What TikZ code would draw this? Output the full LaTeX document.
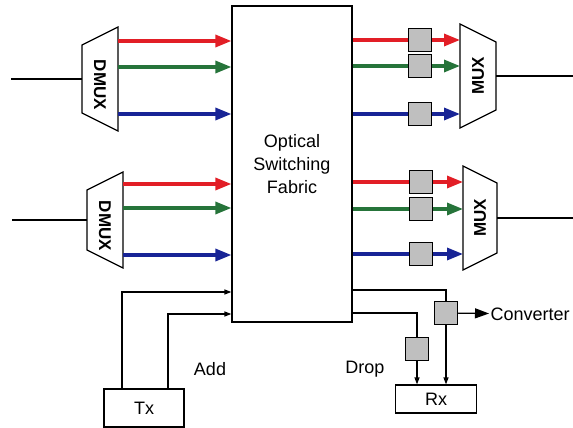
\documentclass[tikz,border=0pt]{standalone}
\usepackage{fontspec}
\setmainfont{Liberation Sans}
\usetikzlibrary{arrows.meta}
\definecolor{chred}{RGB}{226,30,38}
\definecolor{chgreen}{RGB}{38,116,58}
\definecolor{chblue}{RGB}{24,36,150}

\begin{document}
\begin{tikzpicture}[x=1pt, y=-1pt, line width=1.2pt,
  every node/.style={font=\fontsize{18}{23}\selectfont, inner sep=1pt},
  muxlabel/.style={font=\bfseries\fontsize{17}{17}\selectfont},
  chline/.style={line width=3.2pt},
  charrow/.style={line width=3.2pt, -{Triangle[length=16pt,width=12pt]}},
  smallarrow/.style={-{Triangle[length=7pt,width=5pt]}},
  bigarrow/.style={-{Triangle[length=14pt,width=10pt]}},
  gbox/.style={draw, fill=gray!50, minimum size=23pt, inner sep=0pt}]
\useasboundingbox (0,0) rectangle (573,428);

% switching fabric
\node[draw, minimum width=120pt, minimum height=316pt, align=center] (fab) at (292,164) {Optical\\Switching\\Fabric};

% DMUX A
\begin{scope}[shift={(100,79)}]
\draw (-18,-34) -- (18,-52) -- (18,52) -- (-18,34) -- cycle;
\node[muxlabel, rotate=-90] (dmuxA) at (0,6) {DMUX};
\coordinate (dmuxA-in) at (-18,0);
\coordinate (dmuxA-r) at (18,-38);
\coordinate (dmuxA-g) at (18,-12);
\coordinate (dmuxA-b) at (18,35);
\end{scope}
\coordinate (fibA) at (11,79);
\draw (fibA) -- (dmuxA-in);
\draw[charrow, chred] (dmuxA-r) -- (dmuxA-r -| fab.west);
\draw[charrow, chgreen] (dmuxA-g) -- (dmuxA-g -| fab.west);
\draw[charrow, chblue] (dmuxA-b) -- (dmuxA-b -| fab.west);

% DMUX B
\begin{scope}[shift={(105,220)}]
\draw (-18,-30) -- (18,-48) -- (18,48) -- (-18,30) -- cycle;
\node[muxlabel, rotate=-90] (dmuxB) at (0,6) {DMUX};
\coordinate (dmuxB-in) at (-18,0);
\coordinate (dmuxB-r) at (18,-36);
\coordinate (dmuxB-g) at (18,-12);
\coordinate (dmuxB-b) at (18,35);
\end{scope}
\coordinate (fibB) at (12,220);
\draw (fibB) -- (dmuxB-in);
\draw[charrow, chred] (dmuxB-r) -- (dmuxB-r -| fab.west);
\draw[charrow, chgreen] (dmuxB-g) -- (dmuxB-g -| fab.west);
\draw[charrow, chblue] (dmuxB-b) -- (dmuxB-b -| fab.west);

% MUX A
\begin{scope}[shift={(478,76)}]
\draw (-18,-52) -- (18,-34) -- (18,34) -- (-18,52) -- cycle;
\node[muxlabel, rotate=90] (muxA) at (0,0) {MUX};
\coordinate (muxA-in) at (-18,0);
\coordinate (muxA-out) at (18,0);
\end{scope}
\coordinate (fibC) at (573,76);
\draw (muxA-out) -- (fibC);
\node[gbox] (boxAr) at (420,40) {};
\node[gbox] (boxAg) at (420,66) {};
\node[gbox] (boxAb) at (420,114) {};
\draw[chline, chred] (fab.east |- boxAr) -- (boxAr);
\draw[chline, chgreen] (fab.east |- boxAg) -- (boxAg);
\draw[chline, chblue] (fab.east |- boxAb) -- (boxAb);
\draw[charrow, chred] (boxAr) -- (boxAr -| muxA-in);
\draw[charrow, chgreen] (boxAg) -- (boxAg -| muxA-in);
\draw[charrow, chblue] (boxAb) -- (boxAb -| muxA-in);

% MUX B
\begin{scope}[shift={(480,218)}]
\draw (-17,-52) -- (17,-35) -- (17,35) -- (-17,52) -- cycle;
\node[muxlabel, rotate=90] (muxB) at (0,0) {MUX};
\coordinate (muxB-in) at (-17,0);
\coordinate (muxB-out) at (17,0);
\end{scope}
\coordinate (fibD) at (573,218);
\draw (muxB-out) -- (fibD);
\node[gbox] (boxBr) at (421,182) {};
\node[gbox] (boxBg) at (421,209) {};
\node[gbox] (boxBb) at (421,254) {};
\draw[chline, chred] (fab.east |- boxBr) -- (boxBr);
\draw[chline, chgreen] (fab.east |- boxBg) -- (boxBg);
\draw[chline, chblue] (fab.east |- boxBb) -- (boxBb);
\draw[charrow, chred] (boxBr) -- (boxBr -| muxB-in);
\draw[charrow, chgreen] (boxBg) -- (boxBg -| muxB-in);
\draw[charrow, chblue] (boxBb) -- (boxBb -| muxB-in);

% add side
\node[draw, minimum width=80pt, minimum height=38pt] (tx) at (144,408) {Tx};
\node (add) at (210,369) {Add};
\draw[smallarrow] ([xshift=-22pt]tx.north) |- (fab.west |- 0,292);
\draw[smallarrow] ([xshift=24pt]tx.north) |- (fab.west |- 0,314);

% drop side
\node[draw, minimum width=81pt, minimum height=28pt] (rx) at (436,399) {Rx};
\node (drop) at (365,369) {Drop};
\node[gbox] (boxC) at (446,313) {};
\node[gbox] (boxD) at (417,349) {};
\node[anchor=west] (conv) at (489,314) {Converter};
\draw (fab.east |- 0,290) -| (boxC);
\draw (fab.east |- 0,313) -| (boxD);
\draw[smallarrow] (boxC) -- (boxC |- rx.north);
\draw[smallarrow] (boxD) -- (boxD |- rx.north);
\draw[bigarrow] (boxC) -- (conv);
\end{tikzpicture}
\end{document}
